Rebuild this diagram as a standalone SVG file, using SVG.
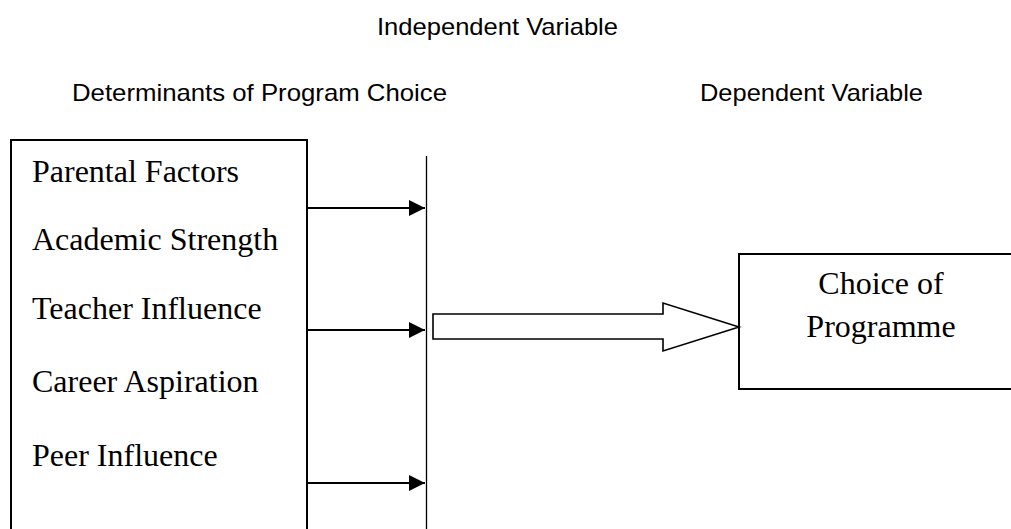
<svg xmlns="http://www.w3.org/2000/svg" width="1011" height="529" viewBox="0 0 1011 529">
  <style>
    .hdr { font-family: "Liberation Sans", Arial, sans-serif; font-size: 24px; fill: #000; }
    .lbl { font-family: "Liberation Serif", "Times New Roman", serif; font-size: 32px; fill: #000; }
    .box { fill: #fff; stroke: #000; stroke-width: 2; }
    .conn { stroke: #000; stroke-width: 2; fill: none; }
  </style>
  <defs>
    <marker id="ah" markerUnits="userSpaceOnUse" markerWidth="16" markerHeight="16" refX="16" refY="8" orient="auto">
      <path d="M0,0 L16,8 L0,16 Z" fill="#000"/>
    </marker>
  </defs>
  <rect width="1011" height="529" fill="#fff"/>

  <g id="headers">
    <text class="hdr" x="377" y="35" textLength="241" lengthAdjust="spacingAndGlyphs">Independent Variable</text>
    <text class="hdr" x="72" y="101" textLength="375" lengthAdjust="spacingAndGlyphs">Determinants of Program Choice</text>
    <text class="hdr" x="700" y="101" textLength="223" lengthAdjust="spacingAndGlyphs">Dependent Variable</text>
  </g>

  <g id="determinants">
    <rect class="box" x="11" y="140" width="296" height="400"/>
    <text class="lbl" x="32" y="182">Parental Factors</text>
    <text class="lbl" x="32" y="250">Academic Strength</text>
    <text class="lbl" x="32" y="319">Teacher Influence</text>
    <text class="lbl" x="32" y="392">Career Aspiration</text>
    <text class="lbl" x="32" y="466">Peer Influence</text>
  </g>

  <g id="choice">
    <rect class="box" x="739" y="254" width="280" height="135"/>
    <text class="lbl" x="881" y="294" text-anchor="middle">Choice of</text>
    <text class="lbl" x="881" y="337" text-anchor="middle">Programme</text>
  </g>

  <g id="connectors">
    <line x1="426.5" y1="156" x2="426.5" y2="529" stroke="#000" stroke-width="1.3"/>
    <line class="conn" x1="307" y1="208" x2="425" y2="208" marker-end="url(#ah)"/>
    <line class="conn" x1="307" y1="330" x2="425" y2="330" marker-end="url(#ah)"/>
    <line class="conn" x1="307" y1="483" x2="425" y2="483" marker-end="url(#ah)"/>
    <polygon points="433,314 663,314 663,303 739,327 663,351 663,339 433,339" fill="#fff" stroke="#000" stroke-width="1.6" stroke-linejoin="miter"/>
  </g>
</svg>
